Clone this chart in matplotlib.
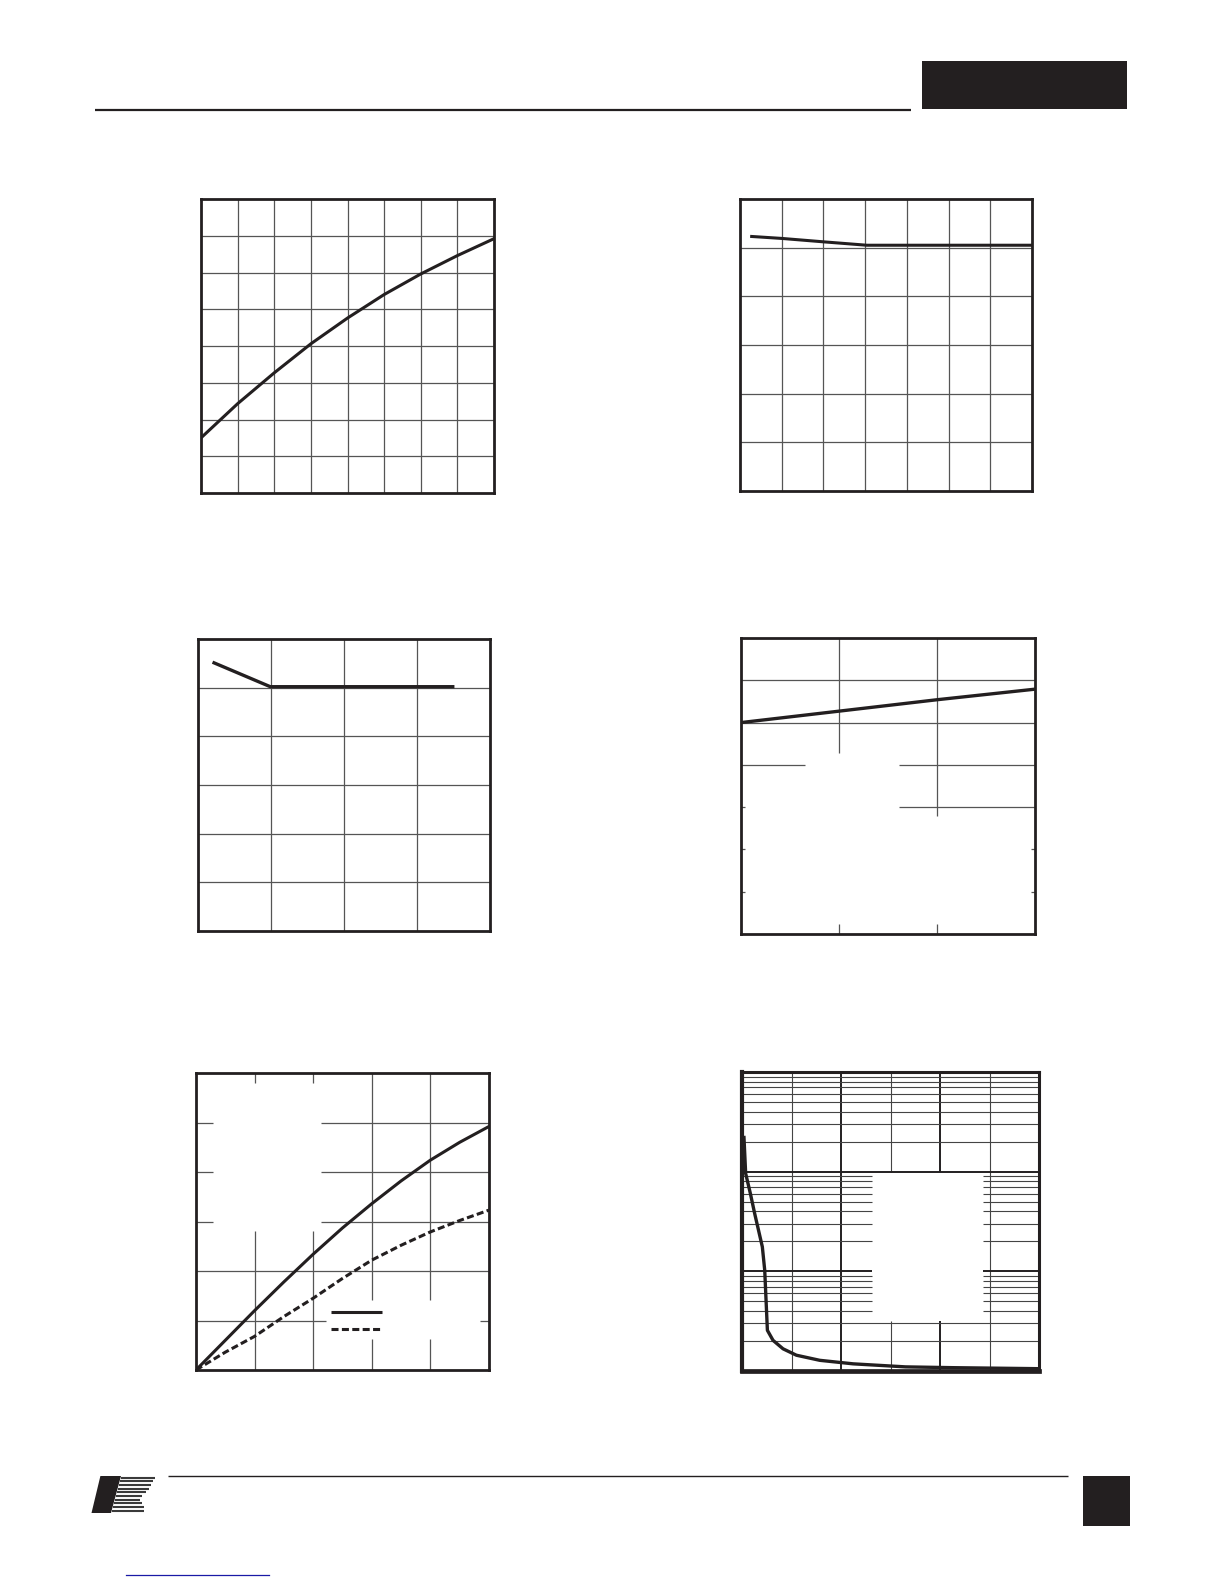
import numpy as np
import matplotlib
matplotlib.use("Agg")
import matplotlib.pyplot as plt
from matplotlib.patches import Rectangle, Polygon

W, H = 1224, 1584
INK = "#231f20"
GRID = "#555555"

# chart 1: rising curve, 8 x 8 grid
c1_x = [0, 1, 2, 3, 4, 5, 6, 7, 8]
c1_y = [1.50, 2.43, 3.27, 4.06, 4.76, 5.40, 5.96, 6.46, 6.92]

# chart 2: slight drop then flat, 7 x 6 grid
c2_x = [0.28, 1, 2, 3.04, 7]
c2_y = [5.23, 5.19, 5.12, 5.05, 5.05]

# chart 3: drop then flat, 4 x 6 grid
c3_x = [0.22, 0.99, 3.49]
c3_y = [5.51, 5.02, 5.02]

# chart 4: linear rise, 3 x 7 grid
c4_x = [0, 1, 2, 3]
c4_y = [5.00, 5.27, 5.54, 5.79]

# chart 5: two curves (solid / dashed), 5 x 6 grid
c5_x = [0, 0.5, 1, 1.5, 2, 2.5, 3, 3.5, 4, 4.5, 5]
c5_solid = [0, 0.60, 1.20, 1.78, 2.34, 2.87, 3.36, 3.82, 4.24, 4.60, 4.92]
c5_dash = [0, 0.36, 0.68, 1.08, 1.45, 1.85, 2.22, 2.52, 2.79, 3.02, 3.23]

# chart 6: log y, falling curve
c6_x = [4.0, 7.4, 16.9, 25.6, 41.1, 45.9, 51.3, 62.7, 82.9, 109.9, 157.1, 224.5, 330.4, 426.8, 600]
c6_y = [2204, 959, 604, 380, 176, 102.6, 25.6, 20.3, 16.7, 14.4, 12.8, 11.8, 11.0, 10.8, 10.55]

fig = plt.figure(figsize=(W / 100, H / 100), dpi=100)


def place(x0, y0, x1, y1):
    return fig.add_axes([x0 / W, 1 - y1 / H, (x1 - x0) / W, (y1 - y0) / H])


def frame(ax, lw=2.0):
    ax.tick_params(which="both", left=False, bottom=False,
                   labelleft=False, labelbottom=False)
    for s in ax.spines.values():
        s.set_linewidth(lw)
        s.set_color(INK)
        s.set_zorder(5)


def hseg(ax, y, parts, **kw):
    for a, b in parts:
        ax.plot([a, b], [y, y], color=kw.get("color", GRID),
                lw=kw.get("lw", 0.9), zorder=1, solid_capstyle="butt")


def vseg(ax, x, parts, **kw):
    for a, b in parts:
        ax.plot([x, x], [a, b], color=kw.get("color", GRID),
                lw=kw.get("lw", 0.9), zorder=1, solid_capstyle="butt")


# chart 1
ax1 = place(201, 199, 494, 493)
ax1.set_xlim(0, 8)
ax1.set_ylim(0, 8)
ax1.vlines(range(1, 8), 0, 8, color=GRID, lw=0.9)
ax1.hlines(range(1, 8), 0, 8, color=GRID, lw=0.9)
ax1.plot(c1_x, c1_y, color=INK, lw=2.2, zorder=3)
frame(ax1)

# chart 2
ax2 = place(740, 199, 1032, 491)
ax2.set_xlim(0, 7)
ax2.set_ylim(0, 6)
ax2.vlines(range(1, 7), 0, 6, color=GRID, lw=0.9)
ax2.hlines(range(1, 6), 0, 7, color=GRID, lw=0.9)
ax2.plot(c2_x, c2_y, color=INK, lw=2.2, zorder=3)
frame(ax2)

# chart 3
ax3 = place(198, 639, 490, 931)
ax3.set_xlim(0, 4)
ax3.set_ylim(0, 6)
ax3.vlines(range(1, 4), 0, 6, color=GRID, lw=0.9)
ax3.hlines(range(1, 6), 0, 4, color=GRID, lw=0.9)
ax3.plot(c3_x, c3_y, color=INK, lw=2.4, zorder=3)
frame(ax3)

# chart 4 (grid broken where labels used to sit)
ax4 = place(741, 638, 1035, 934)
ax4.set_xlim(0, 3)
ax4.set_ylim(0, 7)
vseg(ax4, 1, [(4.29, 7), (0, 0.24)])
vseg(ax4, 2, [(2.78, 7), (0, 0.24)])
hseg(ax4, 6, [(0, 3)])
hseg(ax4, 5, [(0, 3)])
hseg(ax4, 4, [(0, 0.65), (1.61, 3)])
hseg(ax4, 3, [(0, 0.045), (1.61, 3)])
hseg(ax4, 2, [(0, 0.045), (2.955, 3)])
hseg(ax4, 1, [(0, 0.045), (2.955, 3)])
ax4.plot(c4_x, c4_y, color=INK, lw=2.4, zorder=3)
frame(ax4)

# chart 5
ax5 = place(196, 1073, 489, 1370)
ax5.set_xlim(0, 5)
ax5.set_ylim(0, 6)
vseg(ax5, 1, [(5.8, 6), (0, 2.8)])
vseg(ax5, 2, [(5.8, 6), (0, 2.8)])
vseg(ax5, 3, [(0, 0.63), (1.41, 6)])
vseg(ax5, 4, [(0, 0.63), (1.41, 6)])
for yy in (3, 4, 5):
    hseg(ax5, yy, [(0, 0.29), (2.125, 5)])
hseg(ax5, 2, [(0, 5)])
hseg(ax5, 1, [(0, 2.22), (4.84, 5)])
dash = (0, (2.3, 1.1))
ax5.plot(c5_x, c5_solid, color=INK, lw=2.2, zorder=3)
ax5.plot(c5_x, c5_dash, color=INK, lw=2.2, ls=dash, zorder=3)
ax5.plot([2.31, 3.18], [1.18, 1.18], color=INK, lw=2.2, zorder=3,
         solid_capstyle="butt")
ax5.plot([2.31, 3.18], [0.83, 0.83], color=INK, lw=2.2, ls=dash, zorder=3,
         dash_capstyle="butt")
frame(ax5)

# chart 6 (log y)
ax6 = place(742, 1072, 1039, 1371)
ax6.set_yscale("log")
ax6.set_xlim(0, 600)
ax6.set_ylim(10, 10000)
thin = dict(color="#444444", lw=0.8)
thick = dict(color=INK, lw=1.4)
vseg(ax6, 100, [(10, 10000)], **thin)
vseg(ax6, 200, [(10, 10000)], **thick)
vseg(ax6, 300, [(10, 32), (1000, 10000)], **thin)
vseg(ax6, 400, [(10, 32), (1000, 10000)], **thick)
vseg(ax6, 500, [(10, 10000)], **thin)
gap = [(0, 262), (487, 600)]
for dec in (10, 100, 1000):
    for m in range(2, 10):
        v = dec * m
        parts = gap if 32 < v < 1000 else [(0, 600)]
        hseg(ax6, v, parts, **thin)
hseg(ax6, 100, gap, **thick)
hseg(ax6, 1000, [(0, 600)], **thick)
ax6.plot(c6_x, c6_y, color=INK, lw=2.4, zorder=3)
frame(ax6, lw=2.2)
ax6.spines["left"].set_linewidth(3)
ax6.spines["bottom"].set_linewidth(3.4)

# page decorations: header / footer rules, tabs, logo, link underline
bg = fig.add_axes([0, 0, 1, 1], zorder=-1)
bg.set_xlim(0, W)
bg.set_ylim(H, 0)
bg.axis("off")
bg.plot([95, 911], [110, 110], color=INK, lw=1.6, solid_capstyle="butt")
bg.add_patch(Rectangle((922, 61), 205, 48, color=INK, lw=0))
bg.plot([168, 1068], [1476, 1476], color=INK, lw=1.0, solid_capstyle="butt")
bg.add_patch(Rectangle((1083, 1476), 47, 50, color=INK, lw=0))
bg.plot([126, 269], [1575, 1575], color="#1a1aa6", lw=0.9)

bg.add_patch(Polygon([(91.5, 1513), (100.4, 1476), (121, 1476), (111, 1513)],
                     closed=True, color=INK, lw=0))
stripe_ends = [154.6, 153.3, 151.2, 149.2, 145.8, 142.4, 139.7, 142.4, 144.4, 144.4]
for i, xe in enumerate(stripe_ends):
    yy = 1477.5 + i * 3.7
    xs = 121 - (yy - 1476) * (10 / 37)
    bg.plot([xs, xe], [yy, yy], color="#3a3a3a", lw=1.5, solid_capstyle="butt")

fig.savefig("out.png", dpi=100, facecolor="white")
